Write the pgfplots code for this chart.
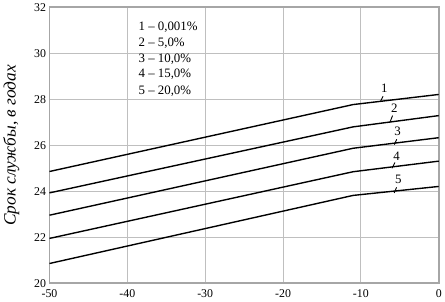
\documentclass[border=0pt]{standalone}
\usepackage{fontspec}
\setmainfont{Liberation Serif}
\usepackage{pgfplots}
\pgfplotsset{compat=1.18}
\begin{document}
\begin{tikzpicture}
\begin{axis}[
 scale only axis, width=393.5pt, height=279pt,
 xmin=-50, xmax=0, ymin=20, ymax=32,
 xtick={-50,-40,...,0}, ytick={20,22,...,32},
 grid=major, major grid style={draw=black!25, line width=0.9pt},
 axis line style={draw=black!35, line width=1.6pt},
 tick style={draw=none},
 ticklabel style={font=\fontsize{12}{12}\selectfont},
 /pgf/number format/assume math mode=true,
 xticklabel style={yshift=-3pt},
 ylabel={\textit{Срок службы, в годах}},
 ylabel style={font=\fontsize{17.5}{17.5}\selectfont, yshift=8pt},
 clip=false,
]
\addplot[black, line width=1.4pt, mark=none] coordinates {(-50,24.86) (-11,27.77) (0,28.21)};
\addplot[black, line width=1.4pt, mark=none] coordinates {(-50,23.93) (-11,26.80) (0,27.29)};
\addplot[black, line width=1.4pt, mark=none] coordinates {(-50,22.96) (-11,25.87) (0,26.33)};
\addplot[black, line width=1.4pt, mark=none] coordinates {(-50,21.95) (-11,24.85) (0,25.31)};
\addplot[black, line width=1.4pt, mark=none] coordinates {(-50,20.86) (-11,23.82) (0,24.21)};
\begin{scope}[font=\fontsize{13}{13}\selectfont]
\node[anchor=base west] at (axis cs:-39,30.97) {1 – 0,001\%};
\node[anchor=base west] at (axis cs:-39,30.29) {2 – 5,0\%};
\node[anchor=base west] at (axis cs:-39,29.62) {3 – 10,0\%};
\node[anchor=base west] at (axis cs:-39,28.93) {4 – 15,0\%};
\node[anchor=base west] at (axis cs:-39,28.21) {5 – 20,0\%};
\node at (axis cs:-7.0,28.5) {1};
\node at (axis cs:-5.7,27.6) {2};
\node at (axis cs:-5.3,26.6) {3};
\node at (axis cs:-5.4,25.54) {4};
\node at (axis cs:-5.2,24.5) {5};
\end{scope}
\draw[line width=0.9pt] (axis cs:-7.5,27.9) -- (axis cs:-7.15,28.13);
\draw[line width=0.9pt] (axis cs:-6.27,27.0) -- (axis cs:-5.93,27.29);
\draw[line width=0.9pt] (axis cs:-5.7,26.03) -- (axis cs:-5.4,26.26);
\draw[line width=0.9pt] (axis cs:-6.0,25.0) -- (axis cs:-5.63,25.25);
\draw[line width=0.9pt] (axis cs:-5.72,23.93) -- (axis cs:-5.42,24.17);
\end{axis}
\end{tikzpicture}
\end{document}
